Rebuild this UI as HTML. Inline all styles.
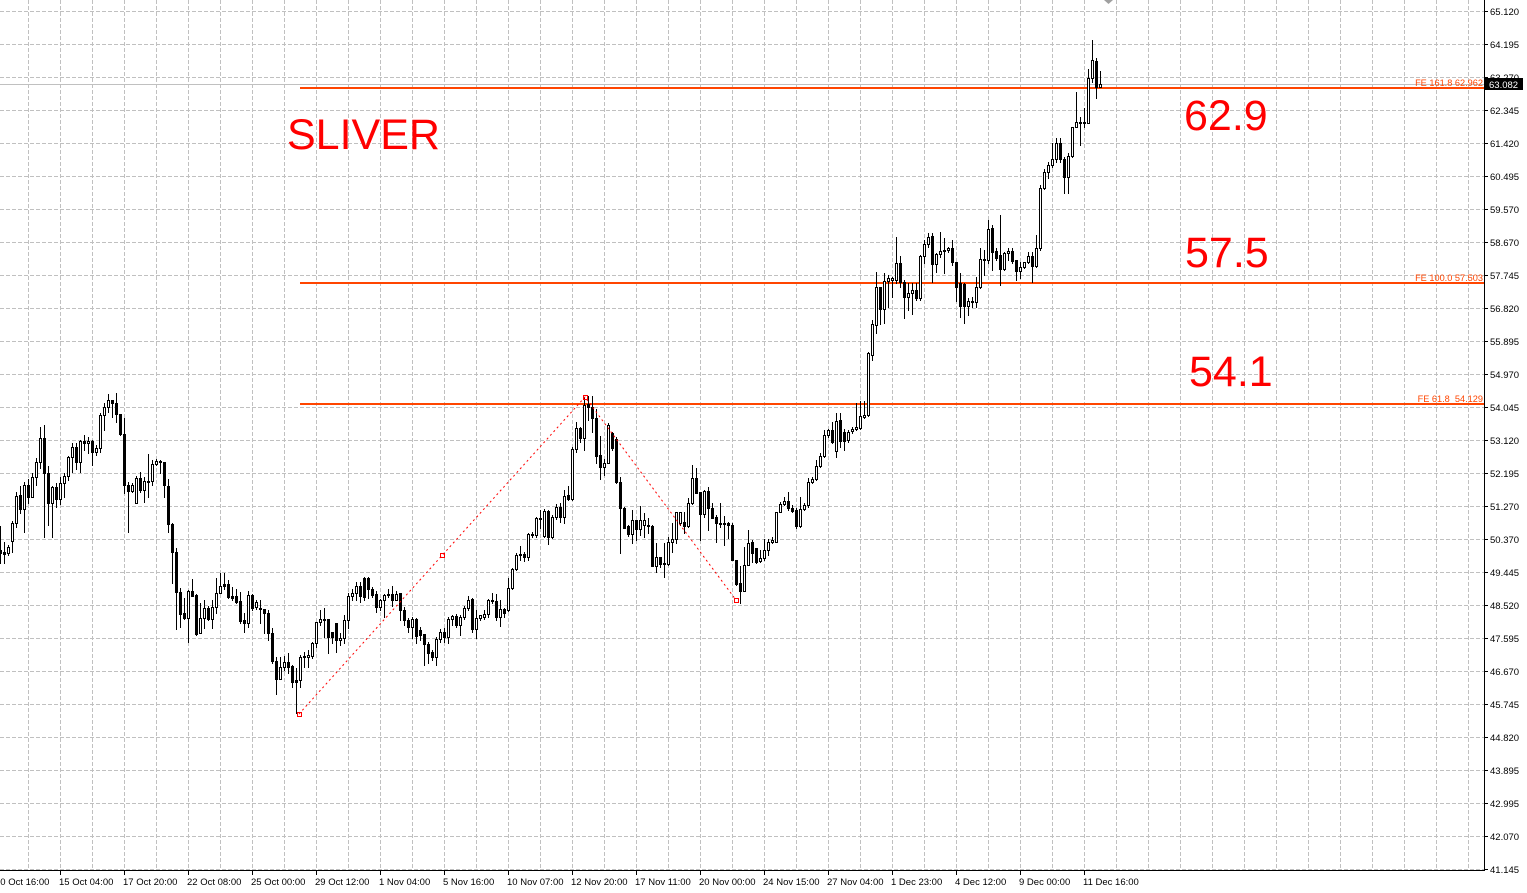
<!DOCTYPE html>
<html>
<head>
<meta charset="utf-8">
<style>
html,body{margin:0;padding:0;background:#fff;}
svg{display:block;}
text{font-family:"Liberation Sans",Arial,sans-serif;}
</style>
</head>
<body>
<svg id="s" width="1527" height="893" viewBox="0 0 1527 893" xmlns="http://www.w3.org/2000/svg" shape-rendering="crispEdges">
<rect x="0" y="0" width="1527" height="893" fill="#fff"/>
<g id="grid" stroke="#c0c0c0" stroke-width="1" stroke-dasharray="4,2"></g>
<!-- current price gray line -->
<rect x="0" y="84" width="1484" height="1" fill="#c0c0c0"/>
<!-- fib expansion lines -->
<rect x="300" y="87" width="1184" height="2" fill="#ff4500"/>
<rect x="300" y="282" width="1184" height="2" fill="#ff4500"/>
<rect x="300" y="403" width="1184" height="2" fill="#ff4500"/>
<g id="candles"></g>
<!-- zigzag -->
<g shape-rendering="auto">
<polyline points="299,714 585,397 736,600" fill="none" stroke="#ff0000" stroke-width="1" stroke-dasharray="2,3"/>
<rect x="297.5" y="712.5" width="4" height="4" fill="none" stroke="#ff0000" stroke-width="1"/>
<rect x="440.5" y="553.5" width="4" height="4" fill="none" stroke="#ff0000" stroke-width="1"/>
<rect x="583.5" y="395.5" width="4" height="4" fill="none" stroke="#ff0000" stroke-width="1"/>
<rect x="734.5" y="598.5" width="4" height="4" fill="none" stroke="#ff0000" stroke-width="1"/>
</g>
<!-- axes -->
<rect x="1484" y="0" width="1" height="871" fill="#000"/>
<rect x="0" y="870" width="1485" height="1" fill="#000"/>
<g id="ticks" fill="#000"></g>
<polygon points="1104,0 1113,0 1108.5,4" fill="#a0a0a0" shape-rendering="auto"/>

<!-- FE labels -->
<g font-size="9.2" fill="#ff4500" text-anchor="end">
<text x="1483" y="86">FE 161.8 62.962</text>
<text x="1483" y="281">FE 100.0 57.503</text>
<text x="1483" y="402" xml:space="preserve">FE 61.8  54.129</text>
</g>

<!-- big labels -->
<g font-size="43" fill="#ff0000">
<text x="287" y="149">SLIVER</text>
<text x="1184" y="130">62.9</text>
<text x="1185" y="267">57.5</text>
<text x="1189" y="386">54.1</text>
</g>

<!-- price axis labels -->
<g font-size="9.5" fill="#000">
<text x="1490" y="15">65.120</text>
<text x="1490" y="48">64.195</text>
<text x="1490" y="81">63.270</text>
<text x="1490" y="114">62.345</text>
<text x="1490" y="147">61.420</text>
<text x="1490" y="180">60.495</text>
<text x="1490" y="213">59.570</text>
<text x="1490" y="246">58.670</text>
<text x="1490" y="279">57.745</text>
<text x="1490" y="312">56.820</text>
<text x="1490" y="345">55.895</text>
<text x="1490" y="378">54.970</text>
<text x="1490" y="411">54.045</text>
<text x="1490" y="444">53.120</text>
<text x="1490" y="477">52.195</text>
<text x="1490" y="510">51.270</text>
<text x="1490" y="543">50.370</text>
<text x="1490" y="576">49.445</text>
<text x="1490" y="609">48.520</text>
<text x="1490" y="642">47.595</text>
<text x="1490" y="675">46.670</text>
<text x="1490" y="708">45.745</text>
<text x="1490" y="741">44.820</text>
<text x="1490" y="774">43.895</text>
<text x="1490" y="807">42.995</text>
<text x="1490" y="840">42.070</text>
<text x="1490" y="873">41.145</text>
</g>
<rect x="1485" y="78" width="38" height="12" fill="#000"/>
<text x="1489" y="88" font-size="9.5" fill="#fff">63.082</text>

<!-- date labels -->
<g font-size="9.5" fill="#000">
<text x="-5" y="885">10 Oct 16:00</text>
<text x="59" y="885">15 Oct 04:00</text>
<text x="123" y="885">17 Oct 20:00</text>
<text x="187" y="885">22 Oct 08:00</text>
<text x="251" y="885">25 Oct 00:00</text>
<text x="315" y="885">29 Oct 12:00</text>
<text x="379" y="885">1 Nov 04:00</text>
<text x="443" y="885">5 Nov 16:00</text>
<text x="507" y="885">10 Nov 07:00</text>
<text x="571" y="885">12 Nov 20:00</text>
<text x="635" y="885">17 Nov 11:00</text>
<text x="699" y="885">20 Nov 00:00</text>
<text x="763" y="885">24 Nov 15:00</text>
<text x="827" y="885">27 Nov 04:00</text>
<text x="891" y="885">1 Dec 23:00</text>
<text x="955" y="885">4 Dec 12:00</text>
<text x="1019" y="885">9 Dec 00:00</text>
<text x="1083" y="885">11 Dec 16:00</text>
</g>
</svg>
<script>
(function(){
var NS="http://www.w3.org/2000/svg";
var g=document.getElementById('grid'), h='';
for(var k=0;k<=45;k++){var x=28+32*k+0.5;h+='<line x1="'+x+'" y1="0" x2="'+x+'" y2="870"/>';}
for(var k=0;k<=26;k++){var y=11+33*k+0.5;h+='<line x1="0" y1="'+y+'" x2="1484" y2="'+y+'"/>';}
g.innerHTML=h;
var t=document.getElementById('ticks'), th='';
for(var k=0;k<=26;k++){th+='<rect x="1485" y="'+(11+33*k)+'" width="3" height="1"/>';}
for(var j=0;j<=17;j++){var x=-4+64*j; if(x>=0) th+='<rect x="'+x+'" y="871" width="1" height="4"/>';}
t.innerHTML=th;
var D="b550,553,526,563|b552,554,542,563|w547,553,545,555|w523,541,521,552|w496,523,492,527|b495,509,486,513|w485,509,482,532|b485,497,479,503|w477,497,473,497|w462,477,458,485|w438,462,427,468|b438,473,425,537|b473,503,466,525|w487,503,486,537|b487,499,483,507|w483,499,477,504|w476,483,473,497|w457,476,456,480|w447,457,443,472|b447,462,443,469|w441,462,440,472|b441,443,435,450|w441,443,437,453|b441,452,440,465|w448,452,445,455|w415,448,413,452|w407,415,403,430|w400,407,394,412|b400,403,400,417|b403,414,393,422|b414,434,414,435|b434,485,418,493|b485,491,482,532|w485,491,483,492|w478,503,476,503|b478,490,472,492|w481,490,477,502|b481,482,454,497|w464,481,460,485|w461,464,459,465|b461,462,460,473|b462,485,462,497|b486,524,479,532|b524,552,523,583|b552,592,548,629|b592,614,588,627|b613,618,598,619|w591,618,590,642|b591,596,579,596|b595,634,594,635|w618,633,603,633|w608,618,600,628|b608,619,606,620|w607,619,600,628|w593,607,578,613|w586,593,573,593|b584,586,573,589|b584,597,580,598|b596,598,587,600|b596,602,589,603|b601,621,592,623|b620,623,613,632|w595,623,591,627|b595,608,594,610|w602,607,600,609|b608,609,600,623|b609,613,609,633|b613,633,610,640|b633,661,628,663|b661,679,657,694|w667,679,657,679|w662,667,656,670|b662,667,653,673|b666,682,665,687|b680,682,668,713|w657,680,655,687|w656,657,652,667|w655,657,650,667|w643,656,642,658|w622,643,622,647|w619,622,610,625|w619,620,608,637|b619,637,619,653|b632,637,632,643|b623,640,623,652|w638,640,633,645|w620,638,615,643|w596,620,593,628|w593,596,589,600|w586,593,582,600|b586,596,582,602|b578,597,577,600|b578,589,577,598|b589,595,587,597|b594,607,591,612|w600,607,599,610|w595,600,594,617|w594,595,589,597|b594,600,586,606|w594,600,591,600|b593,610,593,620|b610,620,607,625|b620,627,618,632|w619,627,617,638|b619,636,618,643|b630,635,627,640|b634,644,634,665|b644,653,642,663|b652,657,650,660|w639,657,637,665|w632,639,629,642|b632,637,628,642|w619,637,617,643|w616,619,615,625|b616,625,614,627|w617,625,615,635|w608,617,606,619|w600,608,596,610|b599,629,598,632|w618,629,610,638|w615,618,615,620|w614,617,610,619|w600,614,599,617|w600,601,593,603|b601,617,594,620|w609,617,600,626|b609,613,608,617|w588,610,578,611|w569,588,568,589|w555,569,553,570|w554,555,546,560|b554,557,552,561|w534,557,533,560|w534,535,532,537|w518,535,517,537|w518,519,510,528|w511,536,509,537|b511,537,510,544|w517,537,515,538|w507,517,504,519|b507,517,503,522|w496,517,490,523|b495,499,486,500|w449,499,447,500|w428,449,422,452|b428,438,427,442|w405,438,397,450|b404,407,396,420|b407,418,396,432|b418,456,409,463|b455,467,436,479|w463,467,459,475|w425,463,423,463|b433,448,432,450|b439,482,437,483|b482,508,477,553|b508,528,507,528|b526,534,525,536|w520,534,510,543|b520,529,520,540|w520,529,506,535|w520,525,513,537|b525,526,518,533|b526,566,525,566|w557,566,543,572|b557,564,557,567|b563,564,543,577|w542,564,537,565|w539,542,523,552|w512,539,512,543|w512,523,512,525|b522,526,512,533|w503,526,498,527|w478,503,465,504|b478,493,468,493|b492,514,492,540|w491,514,490,517|b491,508,487,530|b508,518,503,518|b517,523,515,542|b523,524,503,527|b523,524,516,545|b523,525,522,538|b525,560,523,560|b560,584,560,585|b583,591,566,603|w565,591,547,591|w543,565,530,565|b542,553,540,562|b548,562,548,563|w558,561,550,562|w550,558,539,560|w542,550,539,555|w540,542,537,543|w512,542,512,542|w504,512,502,512|w501,504,497,505|b501,508,492,510|b508,511,505,512|b510,526,508,528|w509,526,497,527|w505,509,503,510|w482,505,478,507|w479,482,477,483|w466,479,460,480|w456,466,453,467|w435,456,430,457|w430,435,429,437|b430,442,422,443|w421,451,413,457|b420,441,413,447|b432,441,429,450|w432,440,430,442|w429,431,427,433|w427,429,403,430|w416,428,401,429|w415,417,401,418|w353,415,352,416|w324,355,320,360|w287,325,272,333|b287,309,287,324|w281,309,273,323|w278,281,275,307|w278,280,277,297|w263,280,237,283|b263,282,256,287|b282,297,280,318|w293,297,283,310|w290,293,283,314|b290,298,283,300|w256,298,255,300|w244,256,240,263|w237,244,233,247|b236,264,233,282|w254,264,253,272|w251,254,232,257|w250,251,238,273|w248,250,247,252|b248,262,240,265|b262,287,262,301|b283,306,273,317|b284,306,283,323|w301,306,298,315|w301,302,297,307|w287,302,277,307|w259,287,248,288|w259,260,250,275|w229,260,220,263|b228,252,225,270|b251,258,248,260|b255,269,215,285|w253,269,252,270|w251,253,248,260|b251,261,248,263|b260,271,260,280|w267,271,262,278|w262,267,262,268|w256,262,252,263|b256,266,252,282|w248,266,235,267|w188,248,185,250|w172,188,169,189|w165,172,162,178|w159,165,143,167|w143,159,138,162|b143,159,138,162|b159,177,157,193|w156,177,153,193|w127,156,127,157|w122,127,92,127|w122,123,117,145|w122,123,108,127|w78,123,69,123|w60,78,40,82|b61,87,58,98|w84,87,71,87";
var c='';
D.split('|').forEach(function(e,i){
 var ty=e.charAt(0);var a=e.slice(1).split(',').map(Number);
 var bt=a[0],bb=a[1],wt=a[2],wb=a[3],x=4*i;
 c+='<rect x="'+x+'" y="'+wt+'" width="1" height="'+(wb-wt+1)+'" fill="#000"/>';
 if(ty==='b'){c+='<rect x="'+(x-1)+'" y="'+bt+'" width="3" height="'+(bb-bt+1)+'" fill="#000"/>';}
 else{c+='<rect x="'+(x-0.5)+'" y="'+(bt+0.5)+'" width="2" height="'+Math.max(bb-bt,1)+'" fill="#fff" stroke="#000" stroke-width="1"/>';}
});
document.getElementById('candles').innerHTML=c;
})();
</script>
</body>
</html>
